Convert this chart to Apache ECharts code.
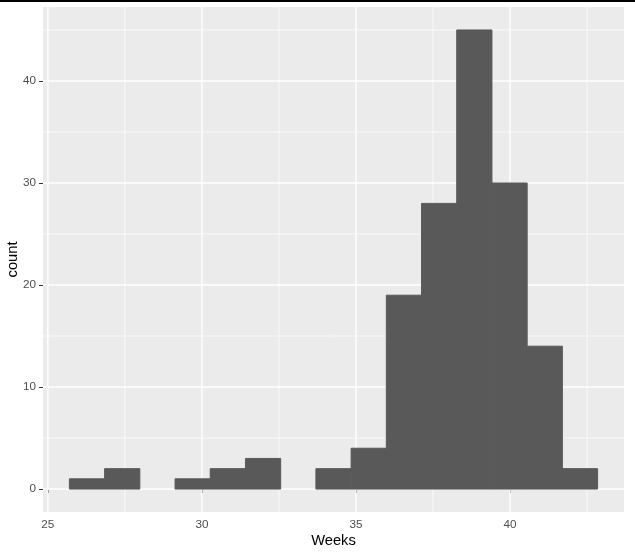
<!DOCTYPE html>
<html><head><meta charset="utf-8">
<script src="https://cdn.jsdelivr.net/npm/echarts@6/dist/echarts.min.js"></script>
<style>html,body{margin:0;padding:0;background:#fff}#c{width:635px;height:557px}</style>
</head><body><div id="c"></div>
<script>
// Histogram bins (left edges, in weeks) and counts
const binLefts = [25.70, 26.843, 27.986, 29.129, 30.271, 31.414, 32.557, 33.70, 34.843, 35.986, 37.129, 38.271, 39.414, 40.557, 41.70];
const binWidth = 1.143;
const counts = [1, 2, 0, 1, 2, 3, 0, 2, 4, 19, 28, 45, 30, 14, 2];
const xTicks = [25, 30, 35, 40];
const xMinor = [27.5, 32.5, 37.5, 42.5];
const yTicks = [0, 10, 20, 30, 40];
const yMinor = [5, 15, 25, 35, 45];

const FONT = 'Liberation Sans, Arial, sans-serif';
const chart = echarts.init(document.getElementById('c'), null, {renderer: 'canvas'});

const gridData = [];
xTicks.forEach(v => gridData.push([0, v, 1]));
xMinor.forEach(v => gridData.push([0, v, 0]));
yTicks.forEach(v => gridData.push([1, v, 1]));
yMinor.forEach(v => gridData.push([1, v, 0]));

const barData = binLefts.map((l, i) => [l, l + binWidth, counts[i]]);

chart.setOption({
  animation: false,
  backgroundColor: '#fff',
  grid: {left: 43, right: 11, top: 7, bottom: 45, show: true, backgroundColor: '#EBEBEB', borderWidth: 0,
         containLabel: false, outerBoundsMode: 'none'},
  xAxis: {
    type: 'value', min: 24.843, max: 43.7,
    splitLine: {show: false},
    axisLine: {show: false},
    axisTick: {show: true, customValues: xTicks, length: 4, lineStyle: {color: '#333333', width: 1}},
    axisLabel: {customValues: xTicks, color: '#4D4D4D', fontSize: 11.7, fontFamily: FONT, margin: 7},
    name: 'Weeks', nameLocation: 'middle', nameGap: 21, nameMoveOverlap: false,
    nameTextStyle: {color: '#000', fontSize: 14.7, fontFamily: FONT}
  },
  yAxis: {
    type: 'value', min: -2.25, max: 47.25,
    splitLine: {show: false},
    axisLine: {show: false},
    axisTick: {show: true, customValues: yTicks, length: 4, lineStyle: {color: '#333333', width: 1}},
    axisLabel: {customValues: yTicks, color: '#4D4D4D', fontSize: 11.7, fontFamily: FONT, margin: 7},
    name: 'count', nameLocation: 'middle', nameGap: 23, nameRotate: 90, nameMoveOverlap: false,
    nameTextStyle: {color: '#000', fontSize: 14.7, fontFamily: FONT}
  },
  graphic: [{type: 'rect', shape: {x: 0, y: 0, width: 635, height: 2}, style: {fill: '#000'}, z: 100}],
  series: [
    {
      type: 'custom', z: 1, silent: true, clip: true,
      data: gridData,
      encode: {x: -1, y: -1},
      renderItem: function (params, api) {
        const cs = params.coordSys;
        const dir = api.value(0), v = api.value(1), major = api.value(2);
        const w = major ? 1.4 : 0.7;
        let shape;
        if (dir === 0) {
          const px = api.coord([v, 0])[0];
          shape = {x1: px, y1: cs.y, x2: px, y2: cs.y + cs.height};
        } else {
          const py = api.coord([30, v])[1];
          shape = {x1: cs.x, y1: py, x2: cs.x + cs.width, y2: py};
        }
        return {type: 'line', shape: shape, style: {stroke: '#FFFFFF', lineWidth: w}};
      }
    },
    {
      type: 'custom', z: 3, silent: true,
      data: barData,
      encode: {x: [0, 1], y: 2},
      renderItem: function (params, api) {
        if (!api.value(2)) return null;
        const p0 = api.coord([api.value(0), api.value(2)]);
        const p1 = api.coord([api.value(1), 0]);
        return {type: 'rect', shape: {x: p0[0], y: p0[1], width: p1[0] - p0[0], height: p1[1] - p0[1]},
                style: {fill: '#595959', stroke: '#595959', lineWidth: 1}};
      }
    }
  ]
});
</script>
</body></html>
